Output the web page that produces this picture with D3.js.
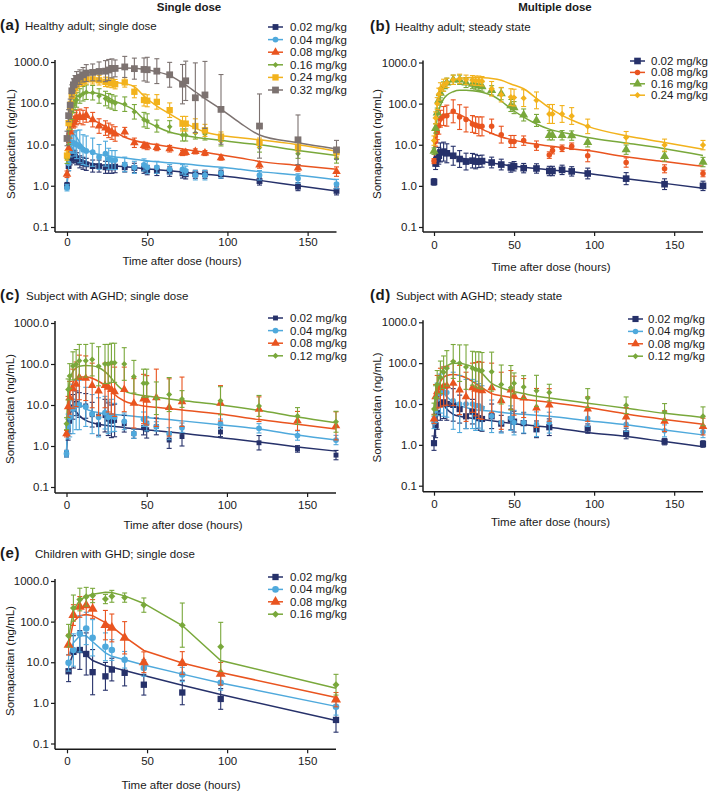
<!DOCTYPE html>
<html><head><meta charset="utf-8">
<script src="https://cdnjs.cloudflare.com/ajax/libs/d3/7.8.5/d3.min.js"></script>
<style>
body{margin:0;background:#fff}
svg{display:block}
text{font-family:"Liberation Sans",Arial,Helvetica,sans-serif;fill:#1a1a1a}
</style>
</head><body>
<svg id="chart" width="710" height="791"></svg>
<script>
// ---------- tick labels / categories ----------
const yTickValues = [0.1, 1, 10, 100, 1000];
const xTickValues = [0, 50, 100, 150];
const dosesA = ["0.02 mg/kg","0.04 mg/kg","0.08 mg/kg","0.16 mg/kg","0.24 mg/kg","0.32 mg/kg"];
const dosesB = ["0.02 mg/kg","0.08 mg/kg","0.16 mg/kg","0.24 mg/kg"];
const dosesCD = ["0.02 mg/kg","0.04 mg/kg","0.08 mg/kg","0.12 mg/kg"];
const dosesE = ["0.02 mg/kg","0.04 mg/kg","0.08 mg/kg","0.16 mg/kg"];

// ---------- (a) healthy adult, single dose ----------
const a_time = [0,1,2,3,4,5,6,8,10,12,16,20,24,26,28,30,36,42,48,50,56,64,72,74,80,86,96,120,144,168];
const a_002 = [1.0,3.0,4.5,5.0,5.2,5.0,4.5,3.8,3.5,3.3,3.0,3.0,2.8,2.8,2.8,2.9,2.8,2.7,2.6,2.4,2.3,2.2,2.0,1.9,1.9,1.9,1.9,1.3,0.95,0.75];
const a_002_f = [1.2,1.3,1.4,1.4,1.4,1.4,1.4,1.4,1.4,1.4,1.4,1.4,1.4,1.4,1.4,1.4,1.3,1.3,1.3,1.3,1.3,1.3,1.3,1.3,1.25,1.25,1.25,1.25,1.25,1.25];
const a_004 = [0.9,3.5,8,11,11,10.5,10,9,7.5,7,6.5,5,6,4.5,4.2,4.2,3.3,2.8,3.2,2.8,2.8,2.5,2.5,2.3,1.8,1.8,2.0,1.8,1.5,1.1];
const a_004_f = [1.2,1.5,1.6,1.7,1.8,2.0,2.2,2.5,2.3,2.3,2.2,2.0,2.0,1.8,1.7,1.7,1.5,1.4,1.4,1.4,1.4,1.3,1.3,1.3,1.3,1.3,1.3,1.3,1.3,1.3];
const a_008 = [1.9,8,20,30,35,40,45,48,45,52,40,28,25,22,20,18,20,11,9.5,9,8.5,7.9,6.2,6.4,6.8,6.2,4.8,3.2,2.7,2.2];
const a_008_f = [1.2,1.4,1.4,1.4,1.4,1.5,1.5,1.5,1.5,1.5,1.5,1.5,1.5,1.5,1.5,1.5,1.3,1.3,1.2,1.2,1.2,1.2,1.15,1.15,1.15,1.15,1.15,1.2,1.2,1.3];
const a_016 = [4.5,15,35,60,90,105,120,150,170,185,180,150,130,115,108,100,95,62,40,37,28,27,17,17,19,18,12,8.5,6,4.6];
const a_016_f = [1.3,1.5,1.5,1.5,1.5,1.5,1.5,1.5,1.5,1.5,1.5,1.5,1.5,1.5,1.5,1.5,1.5,1.5,1.5,1.5,1.4,1.4,1.4,1.4,1.4,1.4,1.3,1.3,1.3,1.3];
const a_024 = [5.4,33,80,150,200,240,280,330,350,380,380,360,330,320,310,290,320,190,120,115,108,68,32,32,28,22,15.5,11,8.7,6.5];
const a_024_f = [1.3,1.4,1.4,1.4,1.4,1.4,1.4,1.3,1.3,1.3,1.3,1.3,1.3,1.3,1.3,1.3,1.3,1.4,1.4,1.4,1.5,1.5,1.5,1.5,1.5,1.4,1.3,1.3,1.3,1.3];
const a_032 = [14,50,90,200,280,335,390,430,490,540,560,590,600,640,700,700,760,690,660,650,600,490,290,350,136,159,71,28,13,7.4];
const a_032_f = [1.5,1.4,1.4,1.4,1.4,1.4,1.5,1.5,1.5,1.6,1.6,1.7,1.8,1.8,1.7,1.6,1.8,1.8,1.9,2,2,2,3,3,7,6.5,7,6,4,1.7];
const a_mtime = [0,1,2,3,4,6,8,12,16,24,30,36,42,48,56,64,72,80,86,96,108,120,144,168];
const a_m_002 = [1.0,3.0,4.6,5.3,5.5,5.0,4.5,3.8,3.4,3.1,3.0,2.9,2.75,2.6,2.45,2.3,2.15,2.0,1.9,1.75,1.55,1.35,1.0,0.75];
const a_m_004 = [1.0,6,12,16,18,15,11,7.5,6.3,5.4,5.0,4.7,4.4,4.1,3.8,3.6,3.4,3.2,3.0,2.8,2.5,2.2,1.8,1.4];
const a_m_008 = [1.8,12,25,35,42,48,50,47,40,27,20,15,12.5,11,9.8,8.8,7.8,7.0,6.5,5.6,4.7,3.9,3.1,2.5];
const a_m_016 = [4,20,50,80,105,140,160,180,180,150,112,90,68,40,27,20,17,15,14,12.6,11,9.8,7.2,5.4];
const a_m_024 = [5,35,85,150,200,270,310,340,345,335,320,300,250,150,85,55,36,25,20,16.5,14.5,13,9.9,6.9];
const a_m_032 = [12,50,110,200,280,400,450,540,580,640,700,720,710,660,580,470,310,190,130,72,33,17,11,7.8];

// ---------- (b) healthy adult, steady state ----------
const b_time = [0,1,2,3,4,6,8,12,16,20,24,26,28,30,36,42,48,50,56,64,72,74,80,86,96,120,144,168];
const b_002 = [1.25,3.5,4.5,5.4,6.5,6.8,6.2,5.4,4.5,3.9,4.1,3.9,3.9,4.0,3.7,3.3,2.8,3.0,2.7,2.65,2.3,2.3,2.45,2.25,2.0,1.5,1.1,1.0];
const b_002_f = [1.2,1.4,1.5,1.6,1.7,1.7,1.7,1.7,1.6,1.6,1.5,1.5,1.4,1.4,1.35,1.35,1.3,1.3,1.3,1.3,1.3,1.3,1.3,1.3,1.35,1.4,1.35,1.3];
const b_008 = [4,12,20,29,43,50,51,65,47,41,32,30,28,28,28,17.6,12,12,12.6,9.5,5.6,7.2,8.2,9.2,5.4,3.7,2.6,2.0];
const b_008_f = [1.15,1.3,1.5,1.6,1.6,1.7,1.8,1.9,2.0,2.0,1.6,1.6,1.7,1.7,1.5,1.6,1.4,1.4,1.3,1.3,1.2,1.2,1.2,1.2,1.4,1.3,1.25,1.2];
const b_016 = [7,25,60,120,180,260,320,380,380,320,300,280,270,260,210,174,90,80,53,39,17,17,17,16.7,11.5,7.6,5.2,3.8];
const b_016_f = [1.2,1.3,1.3,1.3,1.3,1.3,1.3,1.3,1.3,1.3,1.3,1.3,1.3,1.3,1.3,1.4,1.4,1.4,1.4,1.4,1.3,1.3,1.3,1.3,1.3,1.3,1.3,1.3];
const b_024 = [12.6,45,100,170,230,280,320,380,400,380,370,360,360,350,230,165,144,140,136,120,56,56,56,50,28,15,9.8,9.8];
const b_024_f = [1.3,1.4,1.4,1.4,1.4,1.4,1.3,1.3,1.3,1.3,1.3,1.3,1.3,1.3,1.5,1.5,1.6,1.6,1.6,1.6,1.7,1.7,1.6,1.6,1.5,1.4,1.4,1.3];
const b_mtime = [0,1,2,4,6,8,12,16,20,24,30,36,42,48,56,64,72,80,86,96,120,144,168];
const b_m_002 = [3.0,3.6,4.5,5.6,6.0,6.0,5.3,4.8,4.5,4.2,3.9,3.6,3.35,3.1,2.85,2.65,2.45,2.3,2.2,2.0,1.5,1.15,0.87];
const b_m_008 = [4,12,20,35,47,55,60,54,45,35,24,19,15.5,13.5,11.5,10.3,9.3,8.6,8.0,7.2,5.1,3.9,3.0];
const b_m_016 = [6,20,45,90,130,160,195,210,210,205,190,160,115,75,47,32,24,20,18,15,11,8,5.5];
const b_m_024 = [10,40,90,180,250,300,370,410,425,430,425,410,370,300,230,135,80,52,40,28,16.5,11.4,7.8];

// ---------- (c) AGHD, single dose ----------
const c_time = [0,1,2,4,6,8,12,16,20,24,26,28,30,36,42,48,50,56,64,72,96,120,144,168];
const c_002 = [0.65,2.5,4,9,11,10,9.5,5.8,3.3,5.5,4.5,4.0,4.2,3.5,2.0,2.8,2.5,3.0,1.4,1.7,2.2,1.2,0.85,0.6];
const c_002_f = [1.2,1.8,2,2,2,2,2,2,1.8,2.5,2.5,2.5,2.5,1.6,1.3,1.5,1.6,1.6,1.6,1.7,1.3,1.5,1.2,1.3];
const c_004 = [0.65,3,5,8,10,10,9,6,5,6.5,5,5.5,5,4,2.0,4.5,3.5,3.0,2.0,2.8,3.5,2.7,1.8,1.4];
const c_004_f = [1.2,2.0,3,4,4,4,3,3,3,2.5,2.5,2.5,2.2,1.6,1.3,1.5,1.5,1.3,1.4,1.3,1.3,1.3,1.3,1.3];
const c_008 = [2.0,9,15,25,32,47,45,30,22,30,27,24,21,24,11,14,13,15,8.7,12,11,7.9,4.1,3.1];
const c_008_f = [1.2,1.8,2.5,3,3.5,3.5,3.5,3.5,4,3.5,4,4,4,3.5,4,4,4,5,5,4,2.7,2.0,1.7,2.2];
const c_012 = [3.5,24,51,90,98,120,120,128,88,100,100,107,107,100,49,34,34,14.6,18,14,12.7,9.5,5.4,3.9];
const c_012_f = [1.4,1.8,2,2.2,2.3,2.5,2.5,2.5,3,3,3,3,3,2.5,2.5,2.2,2.2,2.5,2.6,1.6,2.2,1.8,1.6,1.8];
const cd_mtime = [0,1,2,4,6,8,12,16,20,24,28,30,36,42,48,56,64,72,96,120,144,168];
const c_m_002 = [0.7,3,5.5,7.5,6.8,5.5,4.2,3.7,3.4,3.2,3.05,3.0,2.8,2.65,2.5,2.35,2.2,2.05,1.6,1.25,0.95,0.75];
const c_m_004 = [0.7,5,10,14,13,11,8,7,6.5,6.2,6.0,5.9,5.6,5.3,5.0,4.7,4.4,4.1,3.3,2.6,1.85,1.4];
const c_m_008 = [2,10,20,35,44,48,48,45,38,30,22,18,12.5,10.5,9.5,8.8,8.2,7.6,6.0,4.4,3.4,2.6];
const c_m_012 = [3,20,40,65,80,88,92,90,82,65,45,36,22,18.5,17,15.5,14,12.8,10,7.4,5.1,3.7];

// ---------- (d) AGHD, steady state ----------
const d_time = [0,1,2,4,6,8,12,16,20,24,26,28,30,36,42,48,50,56,64,72,96,120,144,168];
const d_002 = [1.1,3,6,10,11,10,9.5,7.5,5,6.5,5,4.5,4.3,5,3.3,4.2,3.7,3.4,2.4,2.7,2.5,1.9,1.2,1.05];
const d_002_f = [1.5,2,2.5,2.5,2.5,2.5,2.5,2.2,2,2,2,2,2,2,1.6,1.8,1.8,1.8,1.6,1.6,1.3,1.35,1.2,1.2];
const d_004 = [3.5,7,13,18,20,19,12,10,10,10,9,9,8,5,3.5,4.5,3.5,3.5,3.2,3.5,4.5,3.2,2.2,2.1];
const d_004_f = [1.4,2,2.5,3,4,4,5,5,4,4,4,3.5,3.5,2.5,1.8,2,2,1.8,2,1.8,1.6,1.5,1.4,1.4];
const d_008 = [4.3,15,20,25,27,28,32,22,15,25,23,22,21,25,12,22,16,14,8,9.5,7.5,4.8,3.8,2.8];
const d_008_f = [1.3,2,2.5,3,3,3,3.5,4,4,4,4.5,5,5,4,5,3,3,3,3,2.5,2,1.7,1.8,1.6];
const d_012 = [7.5,14,30,45,60,75,110,100,80,75,70,68,65,62,30,25,32,26,21,19,14,9.3,6.4,5.0];
const d_012_f = [1.4,2,2.2,2.5,2.5,2.7,2.6,2.8,3.5,2.6,2.7,2.8,2.8,3,3,3.5,1.8,1.9,2.4,1.6,1.7,1.6,1.6,1.7];
const d_m_002 = [1.2,4,7,10,9.5,7.5,5.6,5.0,4.7,4.5,4.3,4.2,3.9,3.6,3.4,3.1,2.9,2.7,2.0,1.6,1.2,0.9];
const d_m_004 = [3,8,13,18,18,15,11,9,8.2,7.5,7.0,6.9,6.7,6.2,5.9,5.6,5.3,5.0,3.9,3.1,2.3,1.75];
const d_m_008 = [4,12,20,35,45,50,53,50,44,36,28,25,18,16,14.5,13,12,11,8.2,5.7,4.2,3.2];
const d_m_012 = [7,20,30,55,75,85,100,100,92,82,65,56,32,25,21,18,15.5,14,10.5,7.9,5.9,4.7];

// ---------- (e) children with GHD, single dose ----------
const e_time = [1,4,8,12,16,24,28,36,48,72,96,168];
const e_002 = [6.0,18,20,16,5.7,4.5,6.6,5.5,2.8,1.8,1.25,0.38];
const e_002_f = [1.8,2.5,3,3.3,3.6,2.2,1.9,2.1,1.8,2,1.8,2];
const e_004 = [9.7,20,50,68,40,24,20,11.5,7.2,5.0,3.1,0.8];
const e_004_f = [1.6,2.5,2.8,2.5,2.8,2.2,1.8,1.6,1.6,1.5,1.5,1.6];
const e_008 = [27,145,230,250,205,82,70,40,10,9.6,5.2,1.2];
const e_008_f = [1.8,1.8,1.8,1.7,1.7,2.3,2.2,2.5,1.8,1.9,1.9,1.5];
const e_016 = [45,215,350,410,440,360,420,390,255,82,24,2.8];
const e_016_f = [1.9,2.1,1.9,1.7,1.5,1.3,1.4,1.3,1.5,3.5,4,1.8];
const e_mtime = [1,4,8,12,16,24,28,36,48,72,96,168];
const e_m_002 = [8,17,20,15,11,8.2,7.5,6.3,4.7,2.7,1.6,0.37];
const e_m_004 = [14,30,45,45,32,17,14,11.5,8.6,5.1,3.1,0.82];
const e_m_008 = [26,100,140,150,140,95,75,42,19.5,9.6,5.6,1.36];
const e_m_016 = [40,190,340,420,470,530,520,430,280,80,11,2.3];

// ---------- styling ----------
const COL = {navy:"#26316a", blue:"#4fa9dc", orange:"#e9541f", green:"#79a83b", yellow:"#f2b21c", grey:"#7c7270"};
const diamond = {draw(ctx, size){const r=Math.sqrt(size/2);ctx.moveTo(0,-r);ctx.lineTo(r,0);ctx.lineTo(0,r);ctx.lineTo(-r,0);ctx.closePath();}};
const SHAPES = {square:d3.symbolSquare, circle:d3.symbolCircle, triangle:d3.symbolTriangle, diamond:diamond};
const S = (name,col,shape,size,t,v,f,mt,m)=>({name,col,shape,size,t,v,f,mt,m});

const panels = [
 {tag:"(a)", title:"Healthy adult; single dose", tagX:0, titleX:25, base:30,
  yx:55, xr:[67,336.5], yr:[227,62], axY:232, xPad:1.5, xTitle:[182,265], yTitle:[11,144],
  leg:{x1:268,x2:283,tx:290,y0:27,dy:12.6}, curve:d3.curveMonotoneX,
  series:[
   S(dosesA[0],COL.navy,"square",34,a_time,a_002,a_002_f,a_mtime,a_m_002),
   S(dosesA[1],COL.blue,"circle",26,a_time,a_004,a_004_f,a_mtime,a_m_004),
   S(dosesA[2],COL.orange,"triangle",32,a_time,a_008,a_008_f,a_mtime,a_m_008),
   S(dosesA[3],COL.green,"diamond",16,a_time,a_016,a_016_f,a_mtime,a_m_016),
   S(dosesA[4],COL.yellow,"square",40,a_time,a_024,a_024_f,a_mtime,a_m_024),
   S(dosesA[5],COL.grey,"square",46,a_time,a_032,a_032_f,a_mtime,a_m_032)]},
 {tag:"(b)", title:"Healthy adult; steady state", tagX:370, titleX:395, base:30.5,
  yx:423, xr:[434,703], yr:[227,62.5], axY:232, xPad:4.5, xTitle:[551,270.5], yTitle:[377,144],
  leg:{x1:630,x2:645,tx:651,y0:61,dy:11.4}, curve:d3.curveMonotoneX,
  series:[
   S(dosesB[0],COL.navy,"square",44,b_time,b_002,b_002_f,b_mtime,b_m_002),
   S(dosesB[1],COL.orange,"circle",24,b_time,b_008,b_008_f,b_mtime,b_m_008),
   S(dosesB[2],COL.green,"triangle",36,b_time,b_016,b_016_f,b_mtime,b_m_016),
   S(dosesB[3],COL.yellow,"diamond",20,b_time,b_024,b_024_f,b_mtime,b_m_024)]},
 {tag:"(c)", title:"Subject with AGHD; single dose", tagX:0, titleX:26, base:300,
  yx:55, xr:[66.5,336], yr:[487,323], axY:493, xPad:3.5, xTitle:[183,529], yTitle:[10,409],
  leg:{x1:268,x2:283,tx:290,y0:318,dy:12.6}, curve:d3.curveMonotoneX,
  series:[
   S(dosesCD[0],COL.navy,"square",24,c_time,c_002,c_002_f,cd_mtime,c_m_002),
   S(dosesCD[1],COL.blue,"circle",26,c_time,c_004,c_004_f,cd_mtime,c_m_004),
   S(dosesCD[2],COL.orange,"triangle",32,c_time,c_008,c_008_f,cd_mtime,c_m_008),
   S(dosesCD[3],COL.green,"diamond",18,c_time,c_012,c_012_f,cd_mtime,c_m_012)]},
 {tag:"(d)", title:"Subject with AGHD; steady state", tagX:370, titleX:396, base:299.5,
  yx:423, xr:[434,703], yr:[485.7,322.3], axY:491.7, xPad:4.5, xTitle:[550.5,526.3], yTitle:[377,407.5],
  leg:{x1:628,x2:643,tx:648,y0:319,dy:12.4}, curve:d3.curveMonotoneX,
  series:[
   S(dosesCD[0],COL.navy,"square",38,d_time,d_002,d_002_f,cd_mtime,d_m_002),
   S(dosesCD[1],COL.blue,"circle",24,d_time,d_004,d_004_f,cd_mtime,d_m_004),
   S(dosesCD[2],COL.orange,"triangle",32,d_time,d_008,d_008_f,cd_mtime,d_m_008),
   S(dosesCD[3],COL.green,"diamond",18,d_time,d_012,d_012_f,cd_mtime,d_m_012)]},
 {tag:"(e)", title:"Children with GHD; single dose", tagX:0, titleX:35, base:558,
  yx:55, xr:[67,336], yr:[743.5,581], axY:749.3, xPad:3.5, xTitle:[181,789], yTitle:[10,661],
  leg:{x1:268,x2:283,tx:290,y0:577,dy:12.4}, curve:d3.curveLinear,
  series:[
   S(dosesE[0],COL.navy,"square",40,e_time,e_002,e_002_f,e_mtime,e_m_002),
   S(dosesE[1],COL.blue,"circle",34,e_time,e_004,e_004_f,e_mtime,e_m_004),
   S(dosesE[2],COL.orange,"triangle",44,e_time,e_008,e_008_f,e_mtime,e_m_008),
   S(dosesE[3],COL.green,"diamond",24,e_time,e_016,e_016_f,e_mtime,e_m_016)]}
];

const svg = d3.select("#chart");
const FS = 11.5;

// column headers
svg.append("text").attr("x",189).attr("y",11).attr("text-anchor","middle")
   .attr("font-weight","bold").attr("font-size",FS).text("Single dose");
svg.append("text").attr("x",555).attr("y",11).attr("text-anchor","middle")
   .attr("font-weight","bold").attr("font-size",FS).text("Multiple dose");

panels.forEach(p=>{
  const g = svg.append("g");
  const x = d3.scaleLinear().domain([0,168]).range(p.xr);
  const y = d3.scaleLog().domain([0.1,1000]).range(p.yr);

  // panel tag + title
  g.append("text").attr("x",p.tagX).attr("y",p.base).attr("font-weight","bold")
   .attr("font-size",15).attr("letter-spacing",0.6).text(p.tag);
  g.append("text").attr("x",p.titleX).attr("y",p.base).attr("font-size",FS).text(p.title);

  // axes
  const yAxis = d3.axisLeft(y).tickValues(yTickValues).tickFormat(d3.format(".1f")).tickSize(4).tickPadding(2);
  const gy = g.append("g").attr("transform",`translate(${p.yx},0)`).call(yAxis);
  const xAxis = d3.axisBottom(x).tickValues(xTickValues).tickFormat(d3.format("d")).tickSize(4).tickPadding(p.xPad);
  const gx = g.append("g").attr("transform",`translate(0,${p.axY})`).call(xAxis);
  [gx,gy].forEach(a=>{
    a.select(".domain").remove();
    a.selectAll(".tick line").attr("stroke","#1a1a1a").attr("stroke-width",1.2);
    a.selectAll(".tick text").attr("font-size",FS).attr("font-family","Liberation Sans, Arial, sans-serif").attr("fill","#1a1a1a");
  });
  g.append("line").attr("x1",p.yx).attr("x2",p.yx).attr("y1",y(1000)-2).attr("y2",p.axY)
   .attr("stroke","#1a1a1a").attr("stroke-width",1.5);
  g.append("line").attr("x1",p.yx).attr("x2",p.xr[1]).attr("y1",p.axY).attr("y2",p.axY)
   .attr("stroke","#1a1a1a").attr("stroke-width",1.5);

  // axis titles
  g.append("text").attr("x",p.xTitle[0]).attr("y",p.xTitle[1]).attr("text-anchor","middle")
   .attr("font-size",FS).text("Time after dose (hours)");
  g.append("text").attr("transform",`translate(${p.yTitle[0]},${p.yTitle[1]}) rotate(-90)`)
   .attr("text-anchor","middle").attr("dominant-baseline","central")
   .attr("font-size",FS).text("Somapacitan (ng/mL)");

  // model lines
  const line = d3.line().x(d=>x(d[0])).y(d=>y(d[1])).curve(p.curve);
  p.series.forEach(s=>{
    g.append("path").datum(s.mt.map((t,i)=>[t,s.m[i]]))
     .attr("fill","none").attr("stroke",s.col).attr("stroke-width",1.5).attr("d",line);
  });

  // observations with error bars
  p.series.forEach(s=>{
    const pts = s.t.map((t,i)=>({t, v:s.v[i], hi:s.v[i]*s.f[i], lo:s.v[i]/s.f[i]}));
    const eb = g.append("g").attr("stroke",s.col).attr("stroke-width",1.1).attr("fill","none");
    pts.forEach(d=>{
      const cx = x(d.t);
      eb.append("line").attr("x1",cx).attr("x2",cx).attr("y1",y(d.lo)).attr("y2",y(d.hi));
      eb.append("line").attr("x1",cx-2.5).attr("x2",cx+2.5).attr("y1",y(d.hi)).attr("y2",y(d.hi));
      eb.append("line").attr("x1",cx-2.5).attr("x2",cx+2.5).attr("y1",y(d.lo)).attr("y2",y(d.lo));
    });
    const sym = d3.symbol().type(SHAPES[s.shape]).size(s.size);
    g.append("g").selectAll("path").data(pts).join("path")
     .attr("transform",d=>`translate(${x(d.t)},${y(d.v)})`)
     .attr("d",sym).attr("fill",s.col);
  });

  // legend
  p.series.forEach((s,i)=>{
    const ly = p.leg.y0 + i*p.leg.dy;
    const lg = g.append("g");
    lg.append("line").attr("x1",p.leg.x1).attr("x2",p.leg.x2).attr("y1",ly).attr("y2",ly)
      .attr("stroke",s.col).attr("stroke-width",1.5);
    lg.append("path").attr("transform",`translate(${(p.leg.x1+p.leg.x2)/2},${ly})`)
      .attr("d",d3.symbol().type(SHAPES[s.shape]).size(s.size)()).attr("fill",s.col);
    lg.append("text").attr("x",p.leg.tx).attr("y",ly).attr("dominant-baseline","central")
      .attr("font-size",FS).text(s.name);
  });
});
</script>
</body></html>
